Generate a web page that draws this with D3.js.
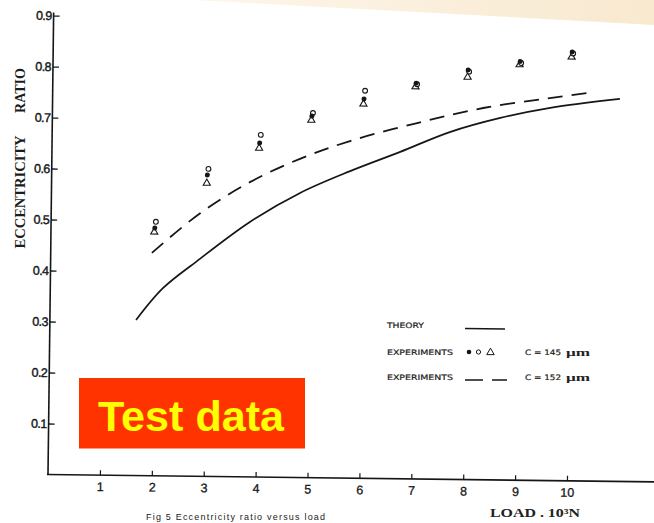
<!DOCTYPE html>
<html>
<head>
<meta charset="utf-8">
<script src="https://cdn.jsdelivr.net/npm/d3@7/dist/d3.min.js"></script>
<style>
  html, body { margin: 0; padding: 0; background: #ffffff; }
  svg { display: block; }
</style>
</head>
<body>
<svg id="chart" width="654" height="523"></svg>
<script>
// ---------------- DATA ----------------
const xTicks = [1, 2, 3, 4, 5, 6, 7, 8, 9, 10];
const yTicks = [0.1, 0.2, 0.3, 0.4, 0.5, 0.6, 0.7, 0.8, 0.9];
const yTickLabels = ["0.1", "0.2", "0.3", "0.4", "0.5", "0.6", "0.7", "0.8", "0.9"];

// experiments, C = 145 um
const expLoad     = [2, 3, 4, 5, 6, 7, 8, 9, 10];
const expFilled   = [0.486, 0.591, 0.655, 0.709, 0.744, 0.776, 0.803, 0.821, 0.841];
const expOpen     = [0.498, 0.603, 0.671, 0.715, 0.760, 0.774, 0.800, 0.818, 0.838];
const expTriangle = [0.478, 0.575, 0.645, 0.701, 0.734, 0.769, 0.789, 0.815, 0.831];

// theory (solid)
const theoryLoad  = [1.66, 2.17, 2.82, 3.83, 4.79, 5.75, 6.71, 7.66, 8.63, 9.59, 10.93];
const theoryRatio = [0.305, 0.368, 0.422, 0.500, 0.558, 0.602, 0.641, 0.681, 0.710, 0.731, 0.750];

// experiments, C = 152 um (dashed)
const dashLoad  = [1.95, 2.87, 3.82, 4.78, 5.74, 7.03, 8.30, 9.58, 10.31];
const dashRatio = [0.437, 0.516, 0.578, 0.625, 0.661, 0.698, 0.729, 0.750, 0.761];

// ---------------- DRAWING ----------------
const svg = d3.select("#chart");
const ink = "#161616";

// scanned-paper beige band at the top
const defs = svg.append("defs");
const grad = defs.append("linearGradient").attr("id", "beige")
  .attr("x1", "0").attr("y1", "0").attr("x2", "1").attr("y2", "0");
grad.append("stop").attr("offset", "0").attr("stop-color", "#fdf6ea");
grad.append("stop").attr("offset", "1").attr("stop-color", "#f8e9cf");
svg.append("path")
  .attr("d", "M195,0 L654,0 L654,25 Q420,12 195,0 Z")
  .attr("fill", "url(#beige)");

const ox = 48, oy = 474.5, tilt = 0.7;
const x = d3.scaleLinear().domain([0, 12]).range([0, 12 * 51.9]);
const y = d3.scaleLinear().domain([0, 0.9]).range([0, -0.9 * 510]);

const g = svg.append("g").attr("transform", `translate(${ox},${oy}) rotate(${tilt})`);

// axis lines
g.append("line").attr("x1", x(0)).attr("x2", x(0))
  .attr("y1", y(0)).attr("y2", y(0.9) - 3)
  .attr("stroke", ink).attr("stroke-width", 1.6);
g.append("line").attr("x1", x(-0.02)).attr("x2", x(11.8))
  .attr("y1", y(0)).attr("y2", y(0))
  .attr("stroke", ink).attr("stroke-width", 1.6);

// y axis (ticks pointing inward)
const yAxis = d3.axisLeft(y).tickValues(yTicks)
  .tickFormat((d, i) => yTickLabels[i])
  .tickSizeInner(-6).tickSizeOuter(0).tickPadding(2);
const gy = g.append("g").call(yAxis);
gy.select(".domain").remove();
gy.selectAll(".tick line").attr("stroke", ink).attr("stroke-width", 1.3);
gy.selectAll(".tick text")
  .attr("font-family", "'Liberation Sans', Arial, sans-serif")
  .attr("font-size", 12.5).attr("fill", ink)
  .attr("stroke", ink).attr("stroke-width", 0.4)
  .attr("letter-spacing", -0.6);

// x axis (ticks pointing up)
const xAxis = d3.axisBottom(x).tickValues(xTicks)
  .tickFormat(d3.format("d"))
  .tickSizeInner(-5).tickSizeOuter(0).tickPadding(7);
const gx = g.append("g").call(xAxis);
gx.select(".domain").remove();
gx.selectAll(".tick line").attr("stroke", ink).attr("stroke-width", 1.2);
gx.selectAll(".tick text")
  .attr("font-family", "'Liberation Sans', Arial, sans-serif")
  .attr("font-size", 12.5).attr("fill", ink)
  .attr("stroke", ink).attr("stroke-width", 0.3);

// theory curve
const line = d3.line().curve(d3.curveCatmullRom.alpha(0.5));
g.append("path")
  .attr("d", line(theoryLoad.map((v, i) => [x(v), y(theoryRatio[i])])))
  .attr("fill", "none").attr("stroke", ink).attr("stroke-width", 1.7);

// dashed curve
g.append("path")
  .attr("d", line(dashLoad.map((v, i) => [x(v), y(dashRatio[i])])))
  .attr("fill", "none").attr("stroke", ink).attr("stroke-width", 1.8)
  .attr("stroke-dasharray", "15,9");

// experimental points
const tri = d3.symbol().type(d3.symbolTriangle).size(22);
g.append("g").selectAll("path").data(expLoad).join("path")
  .attr("d", tri)
  .attr("transform", (d, i) => `translate(${x(d) - 0.5},${y(expTriangle[i])})`)
  .attr("fill", "#fff").attr("stroke", ink).attr("stroke-width", 1.1);
g.append("g").selectAll("circle").data(expLoad).join("circle")
  .attr("cx", d => x(d) + 1).attr("cy", (d, i) => y(expOpen[i]))
  .attr("r", 2.4).attr("fill", "#fff").attr("stroke", ink).attr("stroke-width", 1.1);
g.append("g").selectAll("circle").data(expLoad).join("circle")
  .attr("cx", d => x(d)).attr("cy", (d, i) => y(expFilled[i]))
  .attr("r", 2.5).attr("fill", ink);

// y axis title
const serif = "'Liberation Serif', 'DejaVu Serif', serif";
svg.append("text").text("ECCENTRICITY")
  .attr("transform", "translate(25,192) rotate(-90)")
  .attr("text-anchor", "middle").attr("font-family", serif)
  .attr("font-weight", "bold").attr("font-size", 14)
  .attr("textLength", 113).attr("lengthAdjust", "spacingAndGlyphs")
  .attr("fill", "#1c1c1c");
svg.append("text").text("RATIO")
  .attr("transform", "translate(25,90.5) rotate(-90)")
  .attr("text-anchor", "middle").attr("font-family", serif)
  .attr("font-weight", "bold").attr("font-size", 14)
  .attr("textLength", 45).attr("lengthAdjust", "spacingAndGlyphs")
  .attr("fill", "#1c1c1c");

// x axis title
svg.append("text")
  .attr("x", 490).attr("y", 517)
  .attr("font-family", serif).attr("font-weight", "bold").attr("font-size", 12.5)
  .attr("fill", "#222")
  .attr("textLength", 90).attr("lengthAdjust", "spacingAndGlyphs")
  .text("LOAD . 10³N");

// caption (at the bottom edge)
svg.append("text")
  .attr("x", 146).attr("y", 520)
  .attr("font-family", "'Liberation Sans', Arial, sans-serif").attr("font-size", 9)
  .attr("fill", "#222").attr("letter-spacing", 1.2)
  .text("Fig 5   Eccentricity ratio versus load");

// legend
const lf = "'DejaVu Sans', 'Liberation Sans', sans-serif";
const legendRows = [
  {label: "THEORY", y: 328},
  {label: "EXPERIMENTS", y: 355},
  {label: "EXPERIMENTS", y: 380}
];
svg.append("g").selectAll("text").data(legendRows).join("text")
  .attr("x", 387).attr("y", d => d.y)
  .attr("font-family", lf).attr("font-size", 7.5)
  .attr("fill", "#222").attr("stroke", "#222").attr("stroke-width", 0.2)
  .attr("textLength", d => d.label === "THEORY" ? 37 : 66)
  .attr("lengthAdjust", "spacingAndGlyphs")
  .text(d => d.label);

svg.append("line").attr("x1", 465).attr("x2", 505).attr("y1", 328.5).attr("y2", 329)
  .attr("stroke", ink).attr("stroke-width", 1.5);
svg.append("circle").attr("cx", 469).attr("cy", 352).attr("r", 2.3).attr("fill", ink);
svg.append("circle").attr("cx", 478.5).attr("cy", 352).attr("r", 2.1)
  .attr("fill", "#fff").attr("stroke", ink).attr("stroke-width", 1);
svg.append("path").attr("d", d3.symbol().type(d3.symbolTriangle).size(24)())
  .attr("transform", "translate(490.5,352.5)")
  .attr("fill", "#fff").attr("stroke", ink).attr("stroke-width", 1);
svg.append("line").attr("x1", 465).attr("x2", 507).attr("y1", 380).attr("y2", 380)
  .attr("stroke", ink).attr("stroke-width", 1.5).attr("stroke-dasharray", "18,9");

const cRows = [{t: "C = 145", y: 355}, {t: "C = 152", y: 380}];
cRows.forEach(r => {
  svg.append("text").attr("x", 525).attr("y", r.y)
    .attr("font-family", lf).attr("font-size", 7.5)
    .attr("fill", "#222").attr("stroke", "#222").attr("stroke-width", 0.2)
    .attr("textLength", 36).attr("lengthAdjust", "spacingAndGlyphs")
    .text(r.t);
  svg.append("text").attr("x", 566).attr("y", r.y + 1)
    .attr("font-family", serif).attr("font-weight", "bold").attr("font-size", 11)
    .attr("fill", "#222")
    .attr("textLength", 24).attr("lengthAdjust", "spacingAndGlyphs")
    .text("μm");
});

// "Test data" stamp
svg.append("rect").attr("x", 79).attr("y", 378).attr("width", 226).attr("height", 70.5)
  .attr("fill", "#ff3300");
svg.append("text").attr("x", 98).attr("y", 430.5)
  .attr("font-family", "'Liberation Sans', Arial, sans-serif")
  .attr("font-weight", "bold").attr("font-size", 42)
  .attr("fill", "#ffff00")
  .attr("textLength", 186).attr("lengthAdjust", "spacingAndGlyphs")
  .text("Test data");
</script>
</body>
</html>
